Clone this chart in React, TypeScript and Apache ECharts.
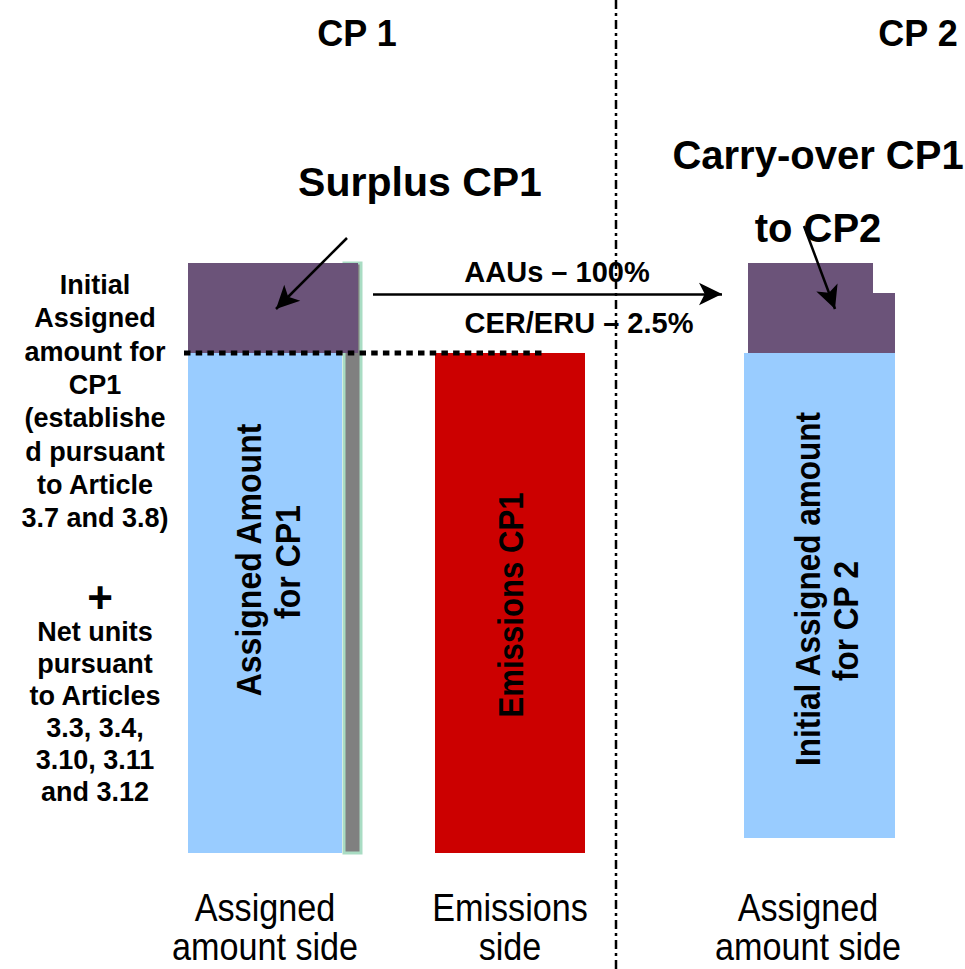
import React, { useEffect, useRef } from "react";
import * as echarts from "echarts";

// ---- data (amounts, arbitrary units; baseline 0) ----
const columnLabels = ["Assigned\namount side", "Emissions\nside", "Assigned\namount side"];
const periodTitles = ["CP 1", "CP 2"];
const assignedAmountCP1 = 100;
const surplusCP1 = 18;
const netUnitsStrip = 118;
const emissionsCP1 = 100;
const initialCP2Base = 3;
const initialCP2 = 97;
const carryOverAAU = 18;
const carryOverCERERU = 12;
const transferLabels = ["AAUs – 100%", "CER/ERU – 2.5%"];
const leftNoteTop = [
  "Initial",
  "Assigned",
  "amount for",
  "CP1",
  "(establishe",
  "d pursuant",
  "to Article",
  "3.7 and 3.8)",
];
const leftNoteBottom = [
  "Net units",
  "pursuant",
  "to Articles",
  "3.3, 3.4,",
  "3.10, 3.11",
  "and 3.12",
];

// ---- styles / layout ----
const BLUE = "#99ccff";
const PURPLE = "#6b5379";
const RED = "#cc0000";
const GREY = "#808080";
const GREEN_EDGE = "#a9dcc3";
const FONT = "'Liberation Sans', Arial, Helvetica, sans-serif";

// x-spans of the columns along the (hidden) horizontal axis
const X = {
  strip: [344, 361],
  cp1: [188, 342],
  cp1Top: [188, 358],
  emis: [435, 585],
  cp2: [744, 895],
  cp2TopTall: [748, 873],
  cp2TopLow: [748, 895],
};

const centered = {
  fill: "#000",
  align: "center",
  verticalAlign: "middle",
  textAlign: "center",
  textVerticalAlign: "middle",
};

export default function App() {
  const ref = useRef<HTMLDivElement>(null);

  useEffect(() => {
    document.body.style.margin = "0";
    if (!ref.current) return;
    const chart = echarts.init(ref.current, undefined, { renderer: "svg" });

    const rects = [
      { x: X.strip, y: [0, netUnitsStrip], fill: GREY, stroke: GREEN_EDGE, lw: 3 },
      { x: X.cp1, y: [0, assignedAmountCP1], fill: BLUE },
      { x: X.cp1Top, y: [assignedAmountCP1, assignedAmountCP1 + surplusCP1], fill: PURPLE },
      { x: X.emis, y: [0, emissionsCP1], fill: RED },
      { x: X.cp2, y: [initialCP2Base, initialCP2Base + initialCP2], fill: BLUE },
      {
        x: X.cp2TopTall,
        y: [initialCP2Base + initialCP2, initialCP2Base + initialCP2 + carryOverAAU],
        fill: PURPLE,
      },
      {
        x: X.cp2TopLow,
        y: [initialCP2Base + initialCP2, initialCP2Base + initialCP2 + carryOverCERERU],
        fill: PURPLE,
      },
    ];

    const option: any = {
      animation: false,
      grid: { left: 0, right: 0, top: 103, bottom: 116 },
      xAxis: { type: "value", min: 0, max: 965, show: false },
      yAxis: { type: "value", min: 0, max: 150, show: false },
      series: [
        {
          type: "custom",
          silent: true,
          data: rects.map((r) => [r.x[0], r.x[1], r.y[0], r.y[1]]),
          renderItem: (params: any, api: any) => {
            const r = rects[params.dataIndex];
            const p0 = api.coord([api.value(0), api.value(2)]);
            const p1 = api.coord([api.value(1), api.value(3)]);
            return {
              type: "rect",
              shape: { x: p0[0], y: p1[1], width: p1[0] - p0[0], height: p0[1] - p1[1] },
              style: {
                fill: r.fill,
                stroke: r.stroke || "none",
                lineWidth: r.lw || 0,
              },
            };
          },
          markLine: {
            silent: true,
            symbol: ["none", "arrow"],
            symbolSize: [17, 23],
            label: { show: false },
            lineStyle: { color: "#000", width: 2.5, type: "solid" },
            emphasis: { disabled: true },
            data: [
              [{ coord: [373, 111.8] }, { coord: [722, 111.8] }],
              [{ coord: [347, 123] }, { coord: [276, 108.8] }],
              [{ coord: [804, 125.4] }, { coord: [835, 108.8] }],
            ],
          },
          z: 2,
        },
        {
          type: "line",
          silent: true,
          symbol: "none",
          data: [
            [184, assignedAmountCP1],
            [545, assignedAmountCP1],
          ],
          lineStyle: { color: "#000", width: 5, type: [6.5, 5.2], cap: "butt" },
          z: 5,
        },
      ],
      graphic: [
        {
          type: "line",
          silent: true,
          z: 10,
          shape: { x1: 616, y1: 0, x2: 616, y2: 969 },
          style: { stroke: "#000", lineWidth: 2.5, lineDash: [9, 4, 3, 4] },
        },
        // period titles
        ...[
          [357, 33],
          [918, 33],
        ].map((p, i) => ({
          type: "text",
          x: p[0],
          y: p[1],
          z: 11,
          style: { ...centered, text: periodTitles[i], font: `bold 36px ${FONT}` },
        })),
        {
          type: "text",
          x: 420,
          y: 182,
          z: 11,
          style: { ...centered, text: "Surplus CP1", font: `bold 41px ${FONT}` },
        },
        {
          type: "text",
          x: 818,
          y: 155,
          z: 11,
          style: { ...centered, text: "Carry-over CP1", font: `bold 40px ${FONT}` },
        },
        {
          type: "text",
          x: 818,
          y: 228,
          z: 11,
          style: { ...centered, text: "to CP2", font: `bold 40px ${FONT}` },
        },
        // transfer labels
        ...[
          [557, 272],
          [579, 323],
        ].map((p, i) => ({
          type: "text",
          x: p[0],
          y: p[1],
          z: 9,
          style: { ...centered, text: transferLabels[i], font: `bold 29px ${FONT}` },
        })),
        // rotated labels inside bars
        ...[
          ["Assigned Amount", 249, 560, 0.915],
          ["for CP1", 288, 562, 0.915],
          ["Emissions CP1", 511, 605, 0.89],
          ["Initial Assigned amount", 808, 589, 0.9],
          ["for CP 2", 846, 621, 0.9],
        ].map((t: any) => ({
          type: "text",
          x: t[1],
          y: t[2],
          rotation: Math.PI / 2,
          scaleX: t[3],
          z: 11,
          style: { ...centered, text: t[0], font: `bold 35px ${FONT}` },
        })),
        // left note
        {
          type: "text",
          x: 95,
          y: 268.5,
          z: 11,
          style: {
            ...centered,
            text: leftNoteTop.join("\n"),
            font: `bold 27px ${FONT}`,
            lineHeight: 33.3,
            verticalAlign: "top",
            textVerticalAlign: "top",
          },
        },
        {
          type: "text",
          x: 100,
          y: 597,
          z: 11,
          style: { ...centered, text: "+", font: `bold 44px ${FONT}`, lineHeight: 28 },
        },
        {
          type: "text",
          x: 95,
          y: 616,
          z: 11,
          style: {
            ...centered,
            text: leftNoteBottom.join("\n"),
            font: `bold 27px ${FONT}`,
            lineHeight: 32,
            verticalAlign: "top",
            textVerticalAlign: "top",
          },
        },
        // column labels at the bottom
        ...[265, 510, 808].map((cx, i) => ({
          type: "text",
          x: cx,
          y: 927,
          scaleX: 0.9,
          z: 11,
          style: {
            ...centered,
            text: columnLabels[i],
            font: `38px ${FONT}`,
            lineHeight: 39,
          },
        })),
      ],
    };

    chart.setOption(option);
    return () => chart.dispose();
  }, []);

  return <div ref={ref} style={{ width: 965, height: 969 }} />;
}
